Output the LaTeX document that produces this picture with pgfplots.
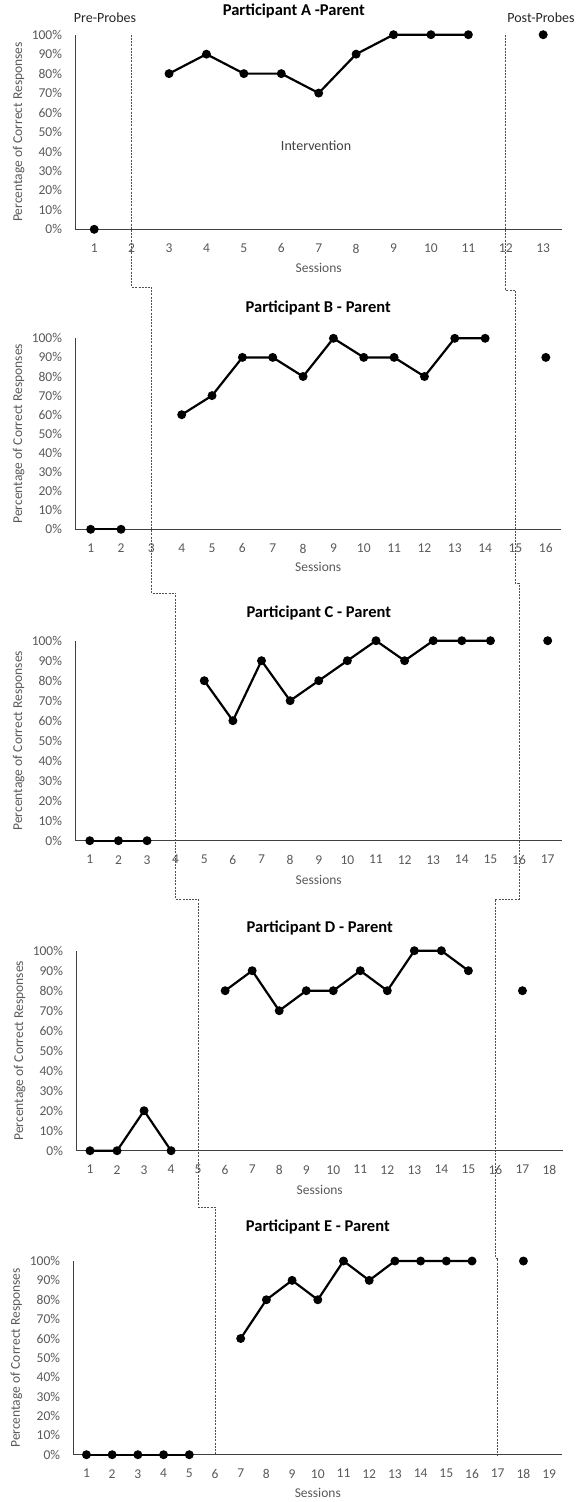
\documentclass[border=0pt]{standalone}
\usepackage{fontspec}
\setmainfont{Carlito}
\usepackage{pgfplots}
\pgfplotsset{compat=1.18}
\definecolor{tickgray}{HTML}{595959}
\definecolor{axgray}{HTML}{404040}
\definecolor{phasegray}{HTML}{505050}
\tikzset{phase/.style={draw=phasegray, line width=0.9pt, dash pattern=on 2pt off 1.2pt}}
\pgfplotscreateplotcyclelist{blk}{black,line width=2.2pt,mark=*,mark size=3.3pt,mark options={solid,fill=black}\\}
\pgfplotsset{
  every axis title shift=0pt,
  sscd/.style={
    scale only axis, clip=false, anchor=south west,
    ymin=0, ymax=100, xmin=0.5,
    axis x line*=bottom, axis y line*=left,
    axis line style={-, draw=axgray, line width=1.2pt},
    major tick length=0pt,
    ytick={0,10,...,100},
    yticklabel={\pgfmathprintnumber{\tick}\%},
    /pgf/number format/assume math mode=true,
    ticklabel style={font=\fontsize{13.5}{15}\selectfont, text=tickgray},
    yticklabel style={xshift=-10pt},
    xticklabel style={yshift=-11pt},
    xlabel={Sessions},
    ylabel={Percentage of Correct Responses},
    label style={font=\fontsize{13.5}{15}\selectfont, text=tickgray},
    xlabel style={at={(axis description cs:0.5,-0.197)}, anchor=center},
    ylabel style={at={(axis description cs:-0.117,0.5)}, anchor=center},
    title style={font=\bfseries\fontsize{16.5}{18}\selectfont, anchor=center, yshift=0pt},
    cycle list name=blk,
  },
}
\begin{document}
\begin{tikzpicture}
\useasboundingbox (0,0) rectangle (577pt,-1502pt);

% ---------------- Participant A ----------------
\begin{axis}[sscd, at={(75.5pt,-229.3pt)}, width=486.4pt, height=194.6pt,
  xmax=13.5, xtick={1,...,13},
  title={Participant A -Parent},
  title style={at={(axis description cs:0.449,1.122)}}]
\addplot coordinates {(1,0)};
\addplot coordinates {(3,80)(4,90)(5,80)(6,80)(7,70)(8,90)(9,100)(10,100)(11,100)};
\addplot coordinates {(13,100)};
\node[font=\fontsize{14}{16}\selectfont, text=axgray] at (axis cs:6.93,42.8) {Intervention};
\node[font=\fontsize{14}{16}\selectfont, text=black!85] at (axis description cs:0.0607,1.085) {Pre-Probes};
\node[font=\fontsize{14}{16}\selectfont, text=black!85] at (axis description cs:0.957,1.085) {Post-Probes};
\coordinate (LA) at (axis cs:2,100);
\coordinate (RA) at (axis cs:12,100);
\end{axis}

% ---------------- Participant B ----------------
\begin{axis}[sscd, at={(75.5pt,-529.3pt)}, width=485.5pt, height=191pt,
  xmax=16.5, xtick={1,...,16},
  title={Participant B - Parent},
  title style={at={(axis description cs:0.5,1.159)}}]
\addplot coordinates {(1,0)(2,0)};
\addplot coordinates {(4,60)(5,70)(6,90)(7,90)(8,80)(9,100)(10,90)(11,90)(12,80)(13,100)(14,100)};
\addplot coordinates {(16,90)};
\coordinate (LB) at (axis cs:3,0);
\coordinate (RB) at (axis cs:15,0);
\end{axis}

% ---------------- Participant C ----------------
\begin{axis}[sscd, at={(75.5pt,-840.7pt)}, width=486.5pt, height=200pt,
  xmax=17.5, xtick={1,...,17},
  title={Participant C - Parent},
  title style={at={(axis description cs:0.5,1.139)}}]
\addplot coordinates {(1,0)(2,0)(3,0)};
\addplot coordinates {(5,80)(6,60)(7,90)(8,70)(9,80)(10,90)(11,100)(12,90)(13,100)(14,100)(15,100)};
\addplot coordinates {(17,100)};
\coordinate (LC) at (axis cs:4,0);
\coordinate (RC) at (axis cs:16,0);
\end{axis}

% ---------------- Participant D ----------------
\begin{axis}[sscd, at={(76.5pt,-1150.7pt)}, width=486.5pt, height=200pt,
  xmax=18.5, xtick={1,...,18},
  title={Participant D - Parent},
  title style={at={(axis description cs:0.5,1.114)}}]
\addplot coordinates {(1,0)(2,0)(3,20)(4,0)};
\addplot coordinates {(6,80)(7,90)(8,70)(9,80)(10,80)(11,90)(12,80)(13,100)(14,100)(15,90)};
\addplot coordinates {(17,80)};
\coordinate (LD) at (axis cs:5,0);
\coordinate (RD) at (axis cs:16,0);
\end{axis}

% ---------------- Participant E ----------------
\begin{axis}[sscd, at={(73.6pt,-1454.7pt)}, width=488.4pt, height=193.7pt,
  xmax=19.5, xtick={1,...,19},
  title={Participant E -  Parent},
  title style={at={(axis description cs:0.5,1.176)}}]
\addplot coordinates {(1,0)(2,0)(3,0)(4,0)(5,0)};
\addplot coordinates {(7,60)(8,80)(9,90)(10,80)(11,100)(12,90)(13,100)(14,100)(15,100)(16,100)};
\addplot coordinates {(18,100)};
\coordinate (LE) at (axis cs:6,0);
\coordinate (RE) at (axis cs:17,0);
\end{axis}

% phase-change lines
\draw[phase] (LA) -- (LA |- 0,-287pt) -- (LB |- 0,-287pt) -- (LB |- 0,-593pt) -- (LC |- 0,-593pt)
  -- (LC |- 0,-899pt) -- (LD |- 0,-899pt) -- (LD |- 0,-1207pt) -- (LE |- 0,-1207pt) -- (LE);
\draw[phase] (RA) -- (RA |- 0,-290pt) -- (RB |- 0,-290pt) -- (RB |- 0,-583pt) -- (RC |- 0,-583pt)
  -- (RC |- 0,-899pt) -- (RD |- 0,-899pt) -- (RD |- 0,-1258pt) -- (RE |- 0,-1258pt) -- (RE);
\end{tikzpicture}
\end{document}
